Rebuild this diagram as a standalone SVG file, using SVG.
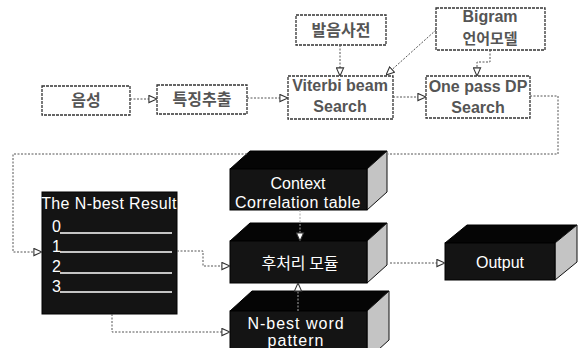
<svg xmlns="http://www.w3.org/2000/svg" width="585" height="348" viewBox="0 0 585 348">
<defs>
<style>
.box{fill:#fff;stroke:#333;stroke-width:1.3;stroke-dasharray:3 1}
.lbl{font-family:"Liberation Sans","Noto Sans CJK KR",sans-serif;font-size:16px;font-weight:bold;fill:#555;text-anchor:middle}
.kr{font-family:"Noto Sans CJK KR","Liberation Sans",sans-serif;font-size:16px;font-weight:bold;fill:#555;text-anchor:middle}
.wt{font-family:"Liberation Sans","Noto Sans CJK KR",sans-serif;font-size:16px;fill:#fff;text-anchor:middle}
.num{font-family:"Liberation Sans",sans-serif;font-size:16px;fill:#fff}
.wkr{font-family:"Noto Sans CJK KR","Liberation Sans",sans-serif;font-size:16px;fill:#fff;text-anchor:middle}
.front{fill:#141414;stroke:#000;stroke-width:1}
.top{fill:#050505;stroke:#000;stroke-width:1}
.side{fill:#c4c4c4;stroke:#111;stroke-width:1}
.con{fill:none;stroke:#555;stroke-width:1;stroke-dasharray:2 1.5}
.conl{fill:none;stroke:#aaa;stroke-width:1;stroke-dasharray:2 1.5}
.ul{stroke:#fff;stroke-width:1.5}
</style>
<marker id="ah" viewBox="0 0 10 10" refX="10" refY="5" markerWidth="9" markerHeight="9" orient="auto" markerUnits="userSpaceOnUse">
<path d="M1,1 L10,5 L1,9 Z" fill="#fff" stroke="#333" stroke-width="1.2"/>
</marker>
</defs>
<rect width="585" height="348" fill="#fff"/>

<g id="n-speech">
<rect class="box" x="42" y="86" width="88" height="29"/>
<text class="kr" x="86" y="106">음성</text>
</g>
<g id="n-feature">
<rect class="box" x="157" y="85" width="90" height="29"/>
<text class="kr" x="202" y="105">특징추출</text>
</g>
<g id="n-dict">
<rect class="box" x="296" y="15" width="90" height="30"/>
<text class="kr" x="341" y="36">발음사전</text>
</g>
<g id="n-bigram">
<rect class="box" x="436" y="8" width="109" height="42"/>
<text class="lbl" x="490" y="22">Bigram</text>
<text class="kr" x="490" y="44" style="font-size:15px">언어모델</text>
</g>
<g id="n-viterbi">
<rect class="box" x="288" y="76" width="105" height="43"/>
<text class="lbl" x="340" y="91">Viterbi beam</text>
<text class="lbl" x="340" y="112">Search</text>
</g>
<g id="n-onepass">
<rect class="box" x="426" y="76" width="104" height="42"/>
<text class="lbl" x="478" y="92">One pass DP</text>
<text class="lbl" x="478" y="113">Search</text>
</g>

<g id="n-nbest">
<rect x="42" y="192" width="135" height="122" fill="#141414" stroke="#000"/>
<text class="wt" x="109" y="209" style="letter-spacing:0.4px">The N-best Result</text>
<text class="num" x="52" y="232">0</text>
<text class="num" x="52" y="252">1</text>
<text class="num" x="52" y="272">2</text>
<text class="num" x="52" y="292">3</text>
<line class="ul" x1="60" y1="233" x2="172" y2="233"/>
<line class="ul" x1="60" y1="252" x2="172" y2="252"/>
<line class="ul" x1="60" y1="273" x2="172" y2="273"/>
<line class="ul" x1="60" y1="292" x2="172" y2="292"/>
</g>

<g id="n-context">
<polygon class="top" points="230,169 250,151 387,151 367,169"/>
<polygon class="side" points="367,169 387,151 387,192 367,210"/>
<rect class="front" x="230" y="169" width="137" height="41"/>
<text class="wt" x="298" y="189">Context</text>
<text class="wt" x="298" y="208" style="letter-spacing:0.5px">Correlation table</text>
</g>

<g id="n-post">
<polygon class="top" points="230,241 250,223 387,223 367,241"/>
<polygon class="side" points="367,241 387,223 387,265 367,283"/>
<rect class="front" x="230" y="241" width="137" height="42"/>
<text class="wkr" x="300" y="269">후처리 모듈</text>
</g>

<g id="n-pattern">
<polygon class="top" points="230,311 252,291 389,291 367,311"/>
<polygon class="side" points="367,311 389,291 389,340 367,360"/>
<rect class="front" x="230" y="311" width="137" height="49"/>
<text class="wt" x="296" y="329" style="letter-spacing:1px">N-best word</text>
<text class="wt" x="296" y="346" style="letter-spacing:1px">pattern</text>
</g>

<g id="n-output">
<polygon class="top" points="445,243 467,225 577,225 555,243"/>
<polygon class="side" points="555,243 577,225 577,262 555,280"/>
<rect class="front" x="445" y="243" width="110" height="37"/>
<text class="wt" x="500" y="268">Output</text>
</g>

<g id="connectors">
<path class="con" d="M130,99 H157" marker-end="url(#ah)"/>
<path class="con" d="M247,98 H288" marker-end="url(#ah)"/>
<path class="con" d="M340,45 V76" marker-end="url(#ah)"/>
<path class="con" d="M436,30 L386,75" marker-end="url(#ah)"/>
<path class="con" d="M490,50 V62 H477 V76" marker-end="url(#ah)"/>
<path class="con" d="M393,97 H426" marker-end="url(#ah)"/>
<path class="con" d="M530,96 H558 V154 H388 M247,154 H13 V252 H42" marker-end="url(#ah)"/>
<path class="con" d="M177,251 H203 V266 H230" marker-end="url(#ah)"/>
<path class="con" d="M112,314 V332 H230" marker-end="url(#ah)"/>
<path class="conl" d="M300,210 V241" marker-end="url(#ah)"/>
<path class="conl" d="M298,311 V283" marker-end="url(#ah)"/>
<path class="con" d="M390,263 H445" marker-end="url(#ah)"/>
</g>
</svg>
